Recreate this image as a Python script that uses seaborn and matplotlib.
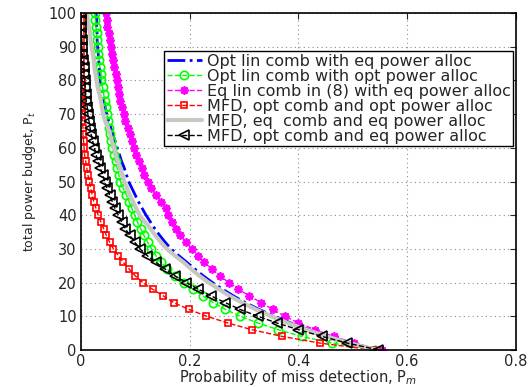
import matplotlib
matplotlib.use('Agg')
import matplotlib.pyplot as plt
import seaborn as sns

# total power budget P_t (y axis), one point every 2 units
power_budget = [0, 2, 4, 6, 8, 10, 12, 14, 16, 18, 20, 22, 24, 26, 28, 30, 32, 34, 36, 38,
                40, 42, 44, 46, 48, 50, 52, 54, 56, 58, 60, 62, 64, 66, 68, 70, 72, 74, 76, 78,
                80, 82, 84, 86, 88, 90, 92, 94, 96, 98, 100]

# probability of miss detection P_m for each curve
opt_lin_eq = [0.545, 0.497, 0.456, 0.419, 0.386, 0.356, 0.328, 0.303, 0.281, 0.261,
              0.242, 0.225, 0.210, 0.195, 0.180, 0.166, 0.155, 0.145, 0.136, 0.128,
              0.120, 0.113, 0.106, 0.100, 0.094, 0.088, 0.084, 0.080, 0.075, 0.071,
              0.067, 0.063, 0.059, 0.055, 0.051, 0.048, 0.045, 0.042, 0.040, 0.038,
              0.036, 0.035, 0.034, 0.033, 0.032, 0.031, 0.030, 0.030, 0.029, 0.029, 0.028]
opt_lin_opt = [0.541, 0.462, 0.406, 0.363, 0.325, 0.293, 0.266, 0.244, 0.225, 0.206,
               0.189, 0.173, 0.159, 0.147, 0.138, 0.130, 0.123, 0.116, 0.110, 0.104,
               0.099, 0.094, 0.089, 0.084, 0.078, 0.073, 0.070, 0.067, 0.064, 0.061,
               0.058, 0.056, 0.054, 0.052, 0.050, 0.048, 0.046, 0.044, 0.042, 0.040,
               0.038, 0.037, 0.035, 0.034, 0.032, 0.031, 0.030, 0.029, 0.028, 0.027, 0.026]
eq_lin_eq = [0.553, 0.503, 0.465, 0.430, 0.400, 0.375, 0.353, 0.332, 0.310, 0.290,
             0.272, 0.256, 0.241, 0.227, 0.215, 0.204, 0.193, 0.183, 0.175, 0.168,
             0.161, 0.156, 0.147, 0.139, 0.130, 0.123, 0.117, 0.112, 0.107, 0.102,
             0.098, 0.094, 0.090, 0.086, 0.082, 0.079, 0.076, 0.073, 0.071, 0.068,
             0.066, 0.064, 0.061, 0.059, 0.057, 0.055, 0.053, 0.051, 0.049, 0.048, 0.047]
mfd_opt_opt = [0.537, 0.440, 0.370, 0.314, 0.270, 0.231, 0.199, 0.171, 0.152, 0.132,
               0.114, 0.100, 0.089, 0.078, 0.069, 0.060, 0.053, 0.047, 0.042, 0.037,
               0.032, 0.028, 0.024, 0.021, 0.018, 0.016, 0.013, 0.011, 0.009, 0.007,
               0.006, 0.005, 0.004, 0.004, 0.003, 0.003, 0.002, 0.002, 0.002, 0.002,
               0.002, 0.001, 0.001, 0.001, 0.001, 0.001, 0.001, 0.001, 0.001, 0.001, 0.001]
mfd_eq_eq = [0.545, 0.493, 0.452, 0.414, 0.380, 0.350, 0.322, 0.297, 0.274, 0.254,
             0.235, 0.218, 0.203, 0.189, 0.173, 0.158, 0.147, 0.137, 0.128, 0.118,
             0.108, 0.102, 0.096, 0.090, 0.085, 0.080, 0.076, 0.072, 0.068, 0.064,
             0.061, 0.057, 0.054, 0.050, 0.045, 0.041, 0.039, 0.037, 0.034, 0.031,
             0.029, 0.027, 0.025, 0.024, 0.022, 0.020, 0.018, 0.017, 0.015, 0.013, 0.012]
mfd_opt_eq = [0.547, 0.490, 0.443, 0.400, 0.360, 0.325, 0.293, 0.266, 0.240, 0.216,
              0.194, 0.173, 0.155, 0.138, 0.122, 0.109, 0.099, 0.090, 0.082, 0.075,
              0.069, 0.063, 0.058, 0.053, 0.048, 0.044, 0.040, 0.036, 0.032, 0.028,
              0.025, 0.022, 0.019, 0.017, 0.015, 0.013, 0.012, 0.010, 0.009, 0.008,
              0.007, 0.006, 0.005, 0.004, 0.003, 0.002, 0.002, 0.001, 0.001, 0.001, 0.000]

labels = ['Opt lin comb with eq power alloc',
          'Opt lin comb with opt power alloc',
          'Eq lin comb in (8) with eq power alloc',
          'MFD, opt comb and opt power alloc',
          'MFD, eq  comb and eq power alloc',
          'MFD, opt comb and eq power alloc']

x_ticks = [0, 0.2, 0.4, 0.6, 0.8]
x_tick_labels = ['0', '0.2', '0.4', '0.6', '0.8']
y_ticks = [0, 10, 20, 30, 40, 50, 60, 70, 80, 90, 100]

sns.set_style('white')
plt.rcParams['font.family'] = ['DejaVu Sans']
plt.rcParams['mathtext.fontset'] = 'dejavusans'

fig = plt.figure(figsize=(5.28, 3.87), dpi=100)
ax = fig.add_axes([0.153, 0.096, 0.824, 0.870])

common = dict(sort=False, estimator=None, ax=ax)

sns.lineplot(x=opt_lin_eq, y=power_budget, color='#0000ff', linestyle='-.', linewidth=2,
             label=labels[0], **common)
sns.lineplot(x=opt_lin_opt, y=power_budget, color='#00ff00', linestyle='--', linewidth=1,
             marker='o', markersize=6, mfc='none', mec='#00ff00', mew=1.2,
             label=labels[1], **common)
sns.lineplot(x=eq_lin_eq, y=power_budget, color='#ff00ff', linestyle='--', linewidth=1,
             marker=(8, 2, 0), markersize=6, mec='#ff00ff', mew=1.3,
             label=labels[2], **common)
sns.lineplot(x=mfd_opt_opt, y=power_budget, color='#ff0000', linestyle='--', linewidth=1,
             marker='s', markersize=5, mfc='none', mec='#ff0000', mew=1.2,
             label=labels[3], **common)
sns.lineplot(x=mfd_eq_eq, y=power_budget, color='#c8c8c2', linestyle='-', linewidth=3,
             label=labels[4], **common)
sns.lineplot(x=mfd_opt_eq, y=power_budget, color='black', linestyle='--', linewidth=1,
             marker='<', markersize=6.5, mfc='none', mec='black', mew=1.2,
             label=labels[5], **common)

ax.set_xlim(0, 0.8)
ax.set_ylim(0, 100)
ax.set_xticks(x_ticks)
ax.set_xticklabels(x_tick_labels)
ax.set_yticks(y_ticks)
ax.tick_params(direction='in', length=4, width=0.8, labelsize=10.5,
               top=True, right=True, pad=3)
ax.grid(True, linestyle=(0, (1, 3)), color='#8c8c8c', linewidth=0.8)
for sp in ax.spines.values():
    sp.set_color('black')
    sp.set_linewidth(1.2)

ax.set_xlabel('Probability of miss detection, P$_m$', fontsize=10.5, labelpad=-1)
ax.set_ylabel('total power budget, P$_t$', fontsize=9, labelpad=8)

leg = ax.legend(loc='upper right', bbox_to_anchor=(0.993, 0.887), fontsize=11.5,
                labelspacing=0.0, handlelength=2.2, handletextpad=0.3,
                borderpad=0.15, borderaxespad=0, fancybox=False, framealpha=1,
                edgecolor='black')
leg.get_frame().set_linewidth(1)

fig.savefig('out.png', dpi=100)
